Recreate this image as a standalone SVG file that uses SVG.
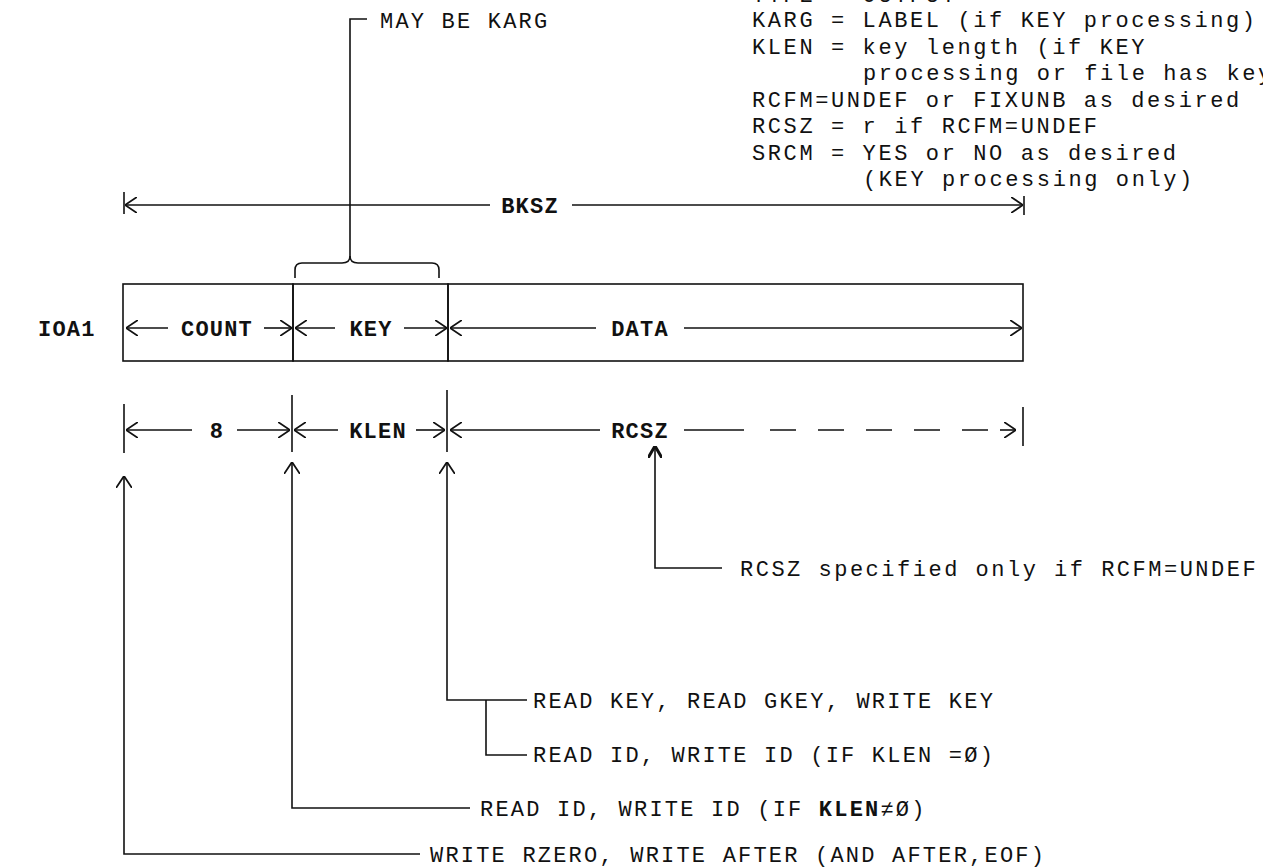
<svg xmlns="http://www.w3.org/2000/svg" width="1263" height="867" viewBox="0 0 1263 867">
<defs>
<style>
.ln{stroke:#111;stroke-width:1.6;fill:none}
.note{font-family:"Liberation Mono",monospace;font-size:22px;letter-spacing:2.2px;fill:#111}
.blk{letter-spacing:2.6px}
.wide{letter-spacing:2.5px}
.lab{font-family:"Liberation Mono",monospace;font-size:22px;font-weight:bold;letter-spacing:1.2px;fill:#111}
.dash{stroke-dasharray:26 22}
</style>
<marker id="ah" viewBox="0 0 12 16" refX="12" refY="8" markerWidth="12" markerHeight="16" markerUnits="userSpaceOnUse" orient="auto">
<path d="M0,0 L12,8 L0,16" fill="none" stroke="#111" stroke-width="1.8"/>
</marker>
<marker id="ahb" viewBox="0 0 12 14" refX="12" refY="7" markerWidth="12" markerHeight="14" markerUnits="userSpaceOnUse" orient="auto">
<path d="M0,0 L12,7 L0,14" fill="none" stroke="#111" stroke-width="3"/>
</marker>
</defs>
<rect width="1263" height="867" fill="#fff"/>

<g id="notes">
<text class="note blk" x="752" y="2">TYPE = OUTPUT</text>
<text class="note blk" x="752" y="27">KARG = LABEL (if KEY processing)</text>
<text class="note blk" x="752" y="54">KLEN = key length (if KEY</text>
<text class="note blk" x="863" y="80">processing or file has key)</text>
<text class="note blk" x="752" y="107">RCFM=UNDEF or FIXUNB as desired</text>
<text class="note blk" x="752" y="133">RCSZ = r if RCFM=UNDEF</text>
<text class="note blk" x="752" y="160">SRCM = YES or NO as desired</text>
<text class="note blk" x="863" y="186">(KEY processing only)</text>
</g>

<g id="may-be-karg">
<path class="ln" d="M367,19 H350 V257"/>
<path class="ln" d="M295,278 V270 Q295,263 302,263 H342 Q350,263 350,256 Q350,263 358,263 H432 Q439,263 439,270 V278"/>
<text class="note" x="380" y="28">MAY BE KARG</text>
</g>

<g id="ioa1-label">
<text class="lab" x="38" y="336">IOA1</text>
</g>

<g id="field-count">
<rect class="ln" x="123" y="284" width="170" height="77"/>
<text class="lab" x="217" y="336" text-anchor="middle">COUNT</text>
</g>
<g id="field-key">
<rect class="ln" x="293" y="284" width="155" height="77"/>
<text class="lab" x="371" y="336" text-anchor="middle">KEY</text>
</g>
<g id="field-data">
<rect class="ln" x="448" y="284" width="575" height="77"/>
<text class="lab" x="640" y="336" text-anchor="middle">DATA</text>
</g>

<g id="dimension-labels">
<text class="lab" x="530" y="213" text-anchor="middle">BKSZ</text>
<text class="lab" x="217" y="438" text-anchor="middle">8</text>
<text class="lab" x="378" y="438" text-anchor="middle">KLEN</text>
<text class="lab" x="640" y="438" text-anchor="middle">RCSZ</text>
</g>

<g id="annotations">
<text class="note wide" x="740" y="576">RCSZ specified only if RCFM=UNDEF</text>
<text class="note" x="533" y="708">READ KEY, READ GKEY, WRITE KEY</text>
<text class="note" x="533" y="762">READ ID, WRITE ID (IF KLEN =Ø)</text>
<text class="note" x="480" y="816">READ ID, WRITE ID (IF <tspan font-weight="bold">KLEN</tspan>≠Ø)</text>
<text class="note" x="430" y="862">WRITE RZERO, WRITE AFTER (AND AFTER,EOF)</text>
</g>

<g id="connectors">
<line class="ln" x1="490" y1="205" x2="125" y2="205" marker-end="url(#ah)"/>
<line class="ln" x1="572" y1="205" x2="1023" y2="205" marker-end="url(#ah)"/>
<line class="ln" x1="124" y1="192" x2="124" y2="214"/>
<line class="ln" x1="1024" y1="196" x2="1024" y2="215"/>
<line class="ln" x1="168" y1="328" x2="126" y2="328" marker-end="url(#ah)"/>
<line class="ln" x1="264" y1="328" x2="292" y2="328" marker-end="url(#ah)"/>
<line class="ln" x1="335" y1="328" x2="295" y2="328" marker-end="url(#ah)"/>
<line class="ln" x1="404" y1="328" x2="447" y2="328" marker-end="url(#ah)"/>
<line class="ln" x1="596" y1="328" x2="450" y2="328" marker-end="url(#ah)"/>
<line class="ln" x1="684" y1="328" x2="1022" y2="328" marker-end="url(#ah)"/>
<line class="ln" x1="124" y1="404" x2="124" y2="453"/>
<line class="ln" x1="292" y1="395" x2="292" y2="452"/>
<line class="ln" x1="447" y1="390" x2="447" y2="452"/>
<line class="ln" x1="1023" y1="407" x2="1023" y2="446"/>
<line class="ln" x1="192" y1="430" x2="126" y2="430" marker-end="url(#ah)"/>
<line class="ln" x1="237" y1="430" x2="290" y2="430" marker-end="url(#ah)"/>
<line class="ln" x1="338" y1="430" x2="294" y2="430" marker-end="url(#ah)"/>
<line class="ln" x1="416" y1="430" x2="445" y2="430" marker-end="url(#ah)"/>
<line class="ln" x1="600" y1="430" x2="450" y2="430" marker-end="url(#ah)"/>
<line class="ln" x1="684" y1="430" x2="744" y2="430"/>
<line class="ln dash" x1="770" y1="430" x2="996" y2="430"/>
<line class="ln" x1="1000" y1="430" x2="1016" y2="430" marker-end="url(#ah)"/>
<path class="ln" d="M722,568 H655 V446" marker-end="url(#ahb)"/>
<path class="ln" d="M527,700 H447 V462" marker-end="url(#ah)"/>
<path class="ln" d="M486,700 V755 H527"/>
<path class="ln" d="M470,808 H292 V462" marker-end="url(#ah)"/>
<path class="ln" d="M420,854 H124 V476" marker-end="url(#ah)"/>
</g>
</svg>
